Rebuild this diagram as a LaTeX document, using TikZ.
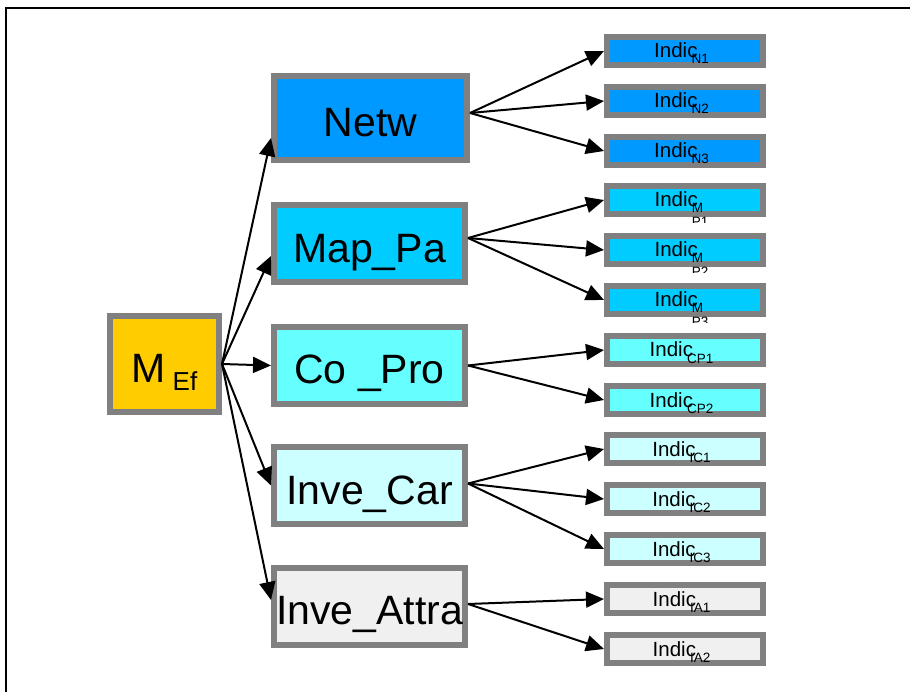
\documentclass[tikz,border=0pt]{standalone}
\usepackage{fontspec}
\setmainfont{Liberation Sans}
\usetikzlibrary{arrows.meta}

\definecolor{boxgray}{HTML}{808080}
\definecolor{mefyellow}{HTML}{FFCC00}
\definecolor{netwblue}{HTML}{0099FF}
\definecolor{mapblue}{HTML}{00CCFF}
\definecolor{cocyan}{HTML}{66FFFF}
\definecolor{carcyan}{HTML}{CCFFFF}
\definecolor{attragray}{HTML}{F0F0F0}

% subscript of the small indicator boxes
\newcommand{\isub}[1]{\kern-6pt\raisebox{-6pt}{\fontsize{13.5}{13.5}\selectfont #1}\kern7pt}

\begin{document}
\begin{tikzpicture}[
  x=1pt, y=-1pt,
  bigbox/.style = {
    draw=boxgray,
    line width=6pt,
    minimum width=191pt,
    minimum height=77pt,
    inner sep=0pt,
    text height=37pt,
    text depth=0pt,
    font=\fontsize{41}{48}\selectfont
  },
  indic/.style = {
    draw=boxgray,
    line width=6pt,
    minimum width=156pt,
    minimum height=28pt,
    inner sep=0pt,
    text height=14pt,
    text depth=0pt,
    font=\fontsize{20.5}{24}\selectfont
  },
  arrow/.style = {line width=2pt, -{Triangle[length=18pt, width=16pt]}}
]
\useasboundingbox (0,0) rectangle (910,692);

% frame
\draw[line width=2pt] (6,692) -- (6,8.5) -- (910,8.5);

% ======================================================
% MAIN BLOCKS
% ======================================================

\node[bigbox, fill=mefyellow, minimum width=109pt, minimum height=96pt] (mef) at (164.5,364)
  {M\,\raisebox{-8pt}{\fontsize{26}{30}\selectfont Ef}};

\node[bigbox, fill=netwblue, minimum width=193pt, minimum height=84pt] (netw) at (370.5,118) {Netw};
\node[bigbox, fill=mapblue] (mappa) at (369.5,244) {Map\_Pa};
\node[bigbox, fill=cocyan] (copro) at (369.5,365.5) {Co \_Pro};
\node[bigbox, fill=carcyan] (invecar) at (369.5,485.5) {Inve\_Car};
\node[bigbox, fill=attragray] (inveattra) at (369.5,606) {Inve\_Attra};

% ======================================================
% INDICATORS
% ======================================================

\foreach \i/\y in {1/51, 2/101, 3/151}
  \node[indic, fill=netwblue] (n\i) at (685,\y) {Indic\isub{N\i}};

\foreach \i/\y in {1/200, 2/250, 3/300} {
  \begin{scope}
    \clip (600,\y-20) rectangle (770,\y+23);
    \node[indic, fill=mapblue] (m\i) at (685,\y)
      {Indic\isub{\begin{tabular}[t]{@{}l@{}}M\\P\i\end{tabular}}};
  \end{scope}
}

\foreach \i/\y in {1/350, 2/400}
  \node[indic, fill=cocyan] (cp\i) at (685,\y) {Indic\isub{CP\i}};

\foreach \i/\y in {1/449, 2/499, 3/549}
  \node[indic, fill=carcyan] (ic\i) at (685,\y) {Indic\isub{IC\i}};

\foreach \i/\y in {1/599, 2/649}
  \node[indic, fill=attragray] (ia\i) at (685,\y) {Indic\isub{IA\i}};

% ---- Arrows ----
\draw[arrow] (mef.east) -- ([yshift=-20pt]netw.west);
\draw[arrow] (mef.east) -- ([yshift=-12pt]mappa.west);
\draw[arrow] (mef.east) -- (copro.west);
\draw[arrow] (mef.east) -- (invecar.west);
\draw[arrow] (mef.east) -- ([yshift=6pt]inveattra.west);

\foreach \n in {n1, n2, n3}
  \draw[arrow] ([yshift=5pt]netw.east) -- (\n.west);
\foreach \n in {m1, m2, m3}
  \draw[arrow] ([yshift=6pt]mappa.east) -- (\n.west);
\foreach \n in {cp1, cp2}
  \draw[arrow] (copro.east) -- (\n.west);
\foreach \n in {ic1, ic2, ic3}
  \draw[arrow] ([yshift=2pt]invecar.east) -- (\n.west);
\foreach \n in {ia1, ia2}
  \draw[arrow] ([yshift=2pt]inveattra.east) -- (\n.west);

\end{tikzpicture}
\end{document}
